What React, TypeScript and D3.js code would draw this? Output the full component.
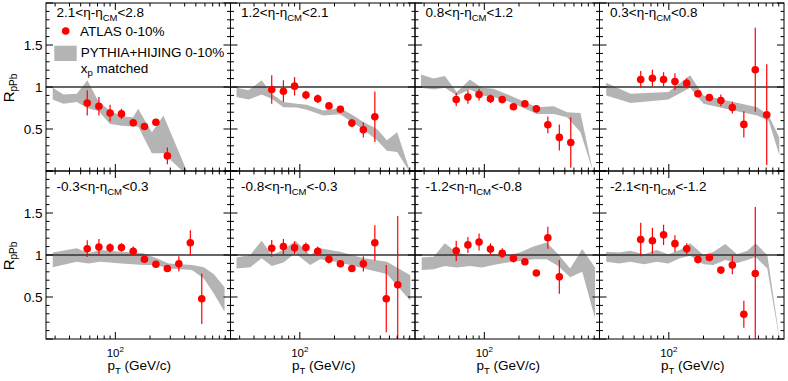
import { useEffect, useRef } from "react";
import * as d3 from "d3";

// eta-eta_CM ranges, one per panel (top row left to right, then bottom row)
const etaLow = ["2.1", "1.2", "0.8", "0.3", "-0.3", "-0.8", "-1.2", "-2.1"];
const etaHigh = ["2.8", "2.1", "1.2", "0.8", "0.3", "-0.3", "-0.8", "-1.2"];

// ATLAS pT bin centres (GeV/c)
const ptBins = [57, 72, 90, 113, 143, 179, 225, 283, 356, 448, 563, 708];

// ATLAS 0-10% R_pPb and errors per panel
const atlasRatio = [
  [0.81, 0.77, 0.69, 0.68, 0.575, 0.53, 0.58, 0.18],
  [0.97, 0.95, 1.01, 0.905, 0.86, 0.775, 0.735, 0.57, 0.49, 0.645],
  [0.85, 0.88, 0.91, 0.86, 0.85, 0.765, 0.8, 0.74, 0.55, 0.4, 0.34],
  [1.09, 1.105, 1.09, 1.065, 1.045, 0.92, 0.875, 0.84, 0.755, 0.555, 1.205, 0.67],
  [1.075, 1.095, 1.085, 1.09, 1.045, 0.95, 0.89, 0.84, 0.895, 1.145, 0.48],
  [1.08, 1.1, 1.085, 1.09, 1.045, 0.95, 0.895, 0.84, 0.895, 1.145, 0.48, 0.645],
  [1.05, 1.12, 1.155, 1.07, 1.02, 0.96, 0.92, 0.785, 1.205, 0.74],
  [1.185, 1.17, 1.24, 1.135, 1.075, 0.945, 0.97, 0.82, 0.88, 0.295, 0.78],
];
const atlasErr = [
  [0.15, 0.11, 0.1, 0.06, 0.03, 0.02, 0.03, 0.1],
  [0.17, 0.13, 0.11, 0.05, 0.05, 0.02, 0.02, 0.05, 0.09, 0.3],
  [0.08, 0.08, 0.07, 0.05, 0.02, 0.02, 0.02, 0.02, 0.1, 0.155, 0.3],
  [0.1, 0.1, 0.085, 0.1, 0.06, 0.02, 0.03, 0.07, 0.07, 0.155, 0.5, 0.6],
  [0.1, 0.095, 0.055, 0.05, 0.055, 0.02, 0.03, 0.02, 0.09, 0.15, 0.3],
  [0.1, 0.09, 0.075, 0.06, 0.055, 0.05, 0.02, 0.03, 0.09, 0.21, 0.4, 0.82],
  [0.12, 0.095, 0.1, 0.07, 0.06, 0.05, 0.02, 0.02, 0.13, 0.2],
  [0.2, 0.155, 0.12, 0.1, 0.065, 0.02, 0.02, 0.02, 0.11, 0.16, 0.79],
];

// PYTHIA+HIJING band: pT nodes and lower / upper edge per panel
const bandPt = [
  [28.6, 35.4, 46.2, 57.2, 71.8, 90, 113.8, 142.7, 157.7, 207.5, 261.8, 418],
  [28.2, 35.9, 46.6, 57, 72, 94, 115, 160, 224, 292, 358, 468, 570, 700, 888],
  [28.2, 36.3, 45.4, 57.6, 75, 95, 120, 167, 286, 400, 523, 684, 866],
  [28.6, 46.6, 99, 153, 200, 365, 585, 737, 911],
  [28.6, 46.2, 58.3, 73.7, 113.8, 175, 228, 290, 463, 586, 714, 888],
  [28.2, 37.1, 46.6, 57, 72, 91.3, 123, 150, 224, 358, 570, 911],
  [28.6, 36.3, 45.4, 57.6, 75, 95, 120, 157, 203, 267, 348, 438, 556, 708, 915],
  [28.6, 36.9, 46.2, 61, 78.5, 99, 125, 153, 200, 245, 309, 392, 480, 567, 716, 911],
];
const bandHigh = [
  [0.99, 0.91, 0.92, 1.08, 0.82, 0.72, 0.65, 0.64, 0.74, 0.46, 0.66, 0.0],
  [0.99, 0.96, 1.08, 0.92, 0.82, 0.8, 0.79, 0.72, 0.75, 0.66, 0.58, 0.5, 0.365, 0.46, 0.03],
  [1.15, 1.1, 1.13, 0.94, 1.09, 0.99, 0.98, 0.9, 0.76, 0.77, 0.7, 0.69, 0.03],
  [1.05, 0.92, 0.94, 1.14, 0.9, 0.82, 0.76, 0.66, 0.4],
  [1.03, 1.08, 1.02, 1.06, 1.04, 1.02, 0.96, 0.9, 0.88, 0.855, 0.775, 0.615],
  [0.97, 1.0, 1.17, 1.0, 1.06, 1.17, 1.0, 1.08, 1.04, 0.96, 0.92, 0.76],
  [0.97, 0.98, 1.14, 1.03, 0.99, 1.0, 1.01, 0.99, 1.03, 1.1, 1.15, 1.01, 0.84, 1.07, 0.85],
  [1.04, 1.03, 1.05, 1.01, 1.06, 1.01, 1.06, 1.14, 1.0, 1.04, 1.13, 1.01, 1.05, 1.14, 1.0, 0.02],
];
const bandLow = [
  [0.85, 0.8, 0.82, 0.75, 0.71, 0.56, 0.54, 0.53, 0.53, 0.21, 0.21, -0.05],
  [0.88, 0.85, 0.91, 0.86, 0.76, 0.755, 0.73, 0.66, 0.675, 0.57, 0.49, 0.365, 0.24, 0.225, 0.0],
  [0.99, 0.97, 0.99, 0.9, 0.97, 0.9, 0.88, 0.82, 0.68, 0.68, 0.64, 0.46, 0.02],
  [0.9, 0.81, 0.85, 0.99, 0.8, 0.72, 0.66, 0.595, 0.19],
  [0.855, 0.92, 0.9, 0.92, 0.9, 0.88, 0.88, 0.84, 0.82, 0.72, 0.545, 0.325],
  [0.84, 0.855, 0.96, 0.87, 0.91, 1.02, 0.88, 0.95, 0.91, 0.84, 0.775, 0.455],
  [0.82, 0.83, 0.87, 0.85, 0.87, 0.85, 0.88, 0.91, 0.93, 0.95, 0.95, 0.87, 0.735, 0.8, 0.245],
  [0.92, 0.9, 0.92, 0.89, 0.92, 0.9, 0.96, 0.99, 0.89, 0.88, 0.94, 0.905, 0.94, 0.975, 0.84, 0.0],
];

const yTickLabels = [0.5, 1, 1.5];

function App() {
  const svgRef = useRef<SVGSVGElement>(null);

  useEffect(() => {
    const width = 788;
    const height = 381;
    const left = 46;
    const right = 784;
    const rowTops = [3, 171];
    const rowH = 168;
    const labelBase = [17.3, 191.3];
    const pw = (right - left) / 4;
    const font = "'Liberation Sans', Arial, Helvetica, sans-serif";
    const red = "#ff0000";

    const svg = d3
      .select(svgRef.current)
      .attr("width", width)
      .attr("height", height)
      .attr("viewBox", `0 0 ${width} ${height}`)
      .style("font-family", font);
    svg.selectAll("*").remove();
    svg.append("rect").attr("width", width).attr("height", height).attr("fill", "#fff");

    const xMinor = [30, 40, 50, 60, 70, 80, 90, 200, 300, 400, 500, 600, 700, 800, 900];
    const yTicks = d3.range(0, 21).map((d) => d / 10);

    etaLow.forEach((lo, i) => {
      const row = Math.floor(i / 4);
      const col = i % 4;
      const x0 = left + col * pw;
      const x1 = x0 + pw;
      const y0 = rowTops[row];
      const y1 = y0 + rowH;
      const x = d3.scaleLog().domain([25, 1000]).range([x0, x1]);
      const y = d3.scaleLinear().domain([0, 2]).range([y1, y0]);

      const g = svg.append("g");
      const clipId = `panel-clip-${i}`;
      g.append("clipPath")
        .attr("id", clipId)
        .append("rect")
        .attr("x", x0)
        .attr("y", y0)
        .attr("width", pw)
        .attr("height", rowH);
      const plot = g.append("g").attr("clip-path", `url(#${clipId})`);

      // MC band
      const pts = bandPt[i];
      const area = d3
        .area<number>()
        .x((d) => x(d))
        .y0((d, j) => y(bandLow[i][j]))
        .y1((d, j) => y(bandHigh[i][j]));
      plot.append("path").attr("d", area(pts)).attr("fill", "#b4b4b4");

      // unity line
      plot
        .append("line")
        .attr("x1", x0)
        .attr("x2", x1)
        .attr("y1", y(1))
        .attr("y2", y(1))
        .attr("stroke", "#333")
        .attr("stroke-width", 1.3);

      // data
      const vals = atlasRatio[i];
      const errs = atlasErr[i];
      plot
        .append("g")
        .selectAll("line")
        .data(vals)
        .join("line")
        .attr("x1", (d, j) => x(ptBins[j]))
        .attr("x2", (d, j) => x(ptBins[j]))
        .attr("y1", (d, j) => y(d - errs[j]))
        .attr("y2", (d, j) => y(d + errs[j]))
        .attr("stroke", red)
        .attr("stroke-width", 1.2);
      plot
        .append("g")
        .selectAll("circle")
        .data(vals)
        .join("circle")
        .attr("cx", (d, j) => x(ptBins[j]))
        .attr("cy", (d) => y(d))
        .attr("r", 3.8)
        .attr("fill", red);

      // frame
      g.append("rect")
        .attr("x", x0)
        .attr("y", y0)
        .attr("width", pw)
        .attr("height", rowH)
        .attr("fill", "none")
        .attr("stroke", "#000")
        .attr("stroke-width", 1);

      // y ticks both sides
      const ticks = g.append("g").attr("stroke", "#000").attr("stroke-width", 1);
      yTicks.forEach((v) => {
        const len = Math.abs(v * 2 - Math.round(v * 2)) < 1e-6 ? 7 : 3.5;
        ticks.append("line").attr("x1", x0).attr("x2", x0 + len).attr("y1", y(v)).attr("y2", y(v));
        ticks.append("line").attr("x1", x1).attr("x2", x1 - len).attr("y1", y(v)).attr("y2", y(v));
      });
      // x ticks top and bottom
      [...xMinor.map((v) => [v, 3.5]), [100, 7]].forEach(([v, len]) => {
        ticks.append("line").attr("x1", x(v)).attr("x2", x(v)).attr("y1", y1).attr("y2", y1 - len);
        ticks.append("line").attr("x1", x(v)).attr("x2", x(v)).attr("y1", y0).attr("y2", y0 + len);
      });

      // panel label
      const lab = g
        .append("text")
        .attr("x", x0 + 10.5)
        .attr("y", labelBase[row])
        .attr("font-size", 13.5)
        .attr("fill", "#000");
      lab.append("tspan").text(`${lo}<η-η`);
      lab.append("tspan").attr("font-size", 9.5).attr("dy", 4).text("CM");
      lab.append("tspan").attr("dy", -4).text(`<${etaHigh[i]}`);

      // y tick labels and title on the left column
      if (col === 0) {
        g.append("g")
          .selectAll("text")
          .data(yTickLabels)
          .join("text")
          .attr("x", x0 - 3.5)
          .attr("y", (d) => y(d) + 4.8)
          .attr("text-anchor", "end")
          .attr("font-size", 13.5)
          .text((d) => String(d));
        const t = g
          .append("text")
          .attr("transform", `translate(13.5, ${y(1) + 1}) rotate(-90)`)
          .attr("text-anchor", "middle")
          .attr("font-size", 15);
        t.append("tspan").text("R");
        t.append("tspan").attr("font-size", 10).attr("dy", 3.5).text("pPb");
      }

      // x tick label and title on the bottom row
      if (row === 1) {
        const tl = g
          .append("text")
          .attr("x", x(100))
          .attr("y", 356.5)
          .attr("text-anchor", "middle")
          .attr("font-size", 11.5);
        tl.append("tspan").text("10");
        tl.append("tspan").attr("font-size", 8).attr("dy", -5).text("2");
        const xt = g
          .append("text")
          .attr("x", (x0 + x1) / 2 + 1)
          .attr("y", 370)
          .attr("text-anchor", "middle")
          .attr("font-size", 13.5);
        xt.append("tspan").text("p");
        xt.append("tspan").attr("font-size", 9.5).attr("dy", 3.5).text("T");
        xt.append("tspan").attr("dy", -3.5).text(" (GeV/c)");
      }
    });

    // legend inside first panel
    const leg = svg.append("g").attr("font-size", 13.5);
    leg.append("circle").attr("cx", 65.7).attr("cy", 31).attr("r", 3.8).attr("fill", red);
    leg.append("text").attr("x", 80).attr("y", 35.5).text("ATLAS 0-10%");
    leg
      .append("rect")
      .attr("x", 54.3)
      .attr("y", 45.7)
      .attr("width", 22.4)
      .attr("height", 15.3)
      .attr("fill", "#b4b4b4");
    leg.append("text").attr("x", 80.7).attr("y", 57).text("PYTHIA+HIJING 0-10%");
    const xp = leg.append("text").attr("x", 80.7).attr("y", 72.5);
    xp.append("tspan").text("x");
    xp.append("tspan").attr("font-size", 9.5).attr("dy", 3.5).text("p");
    xp.append("tspan").attr("dy", -3.5).text(" matched");
  }, []);

  return (
    <div style={{ position: "absolute", left: 0, top: 0 }}>
      <svg ref={svgRef} style={{ display: "block" }}></svg>
    </div>
  );
}

export default App;
